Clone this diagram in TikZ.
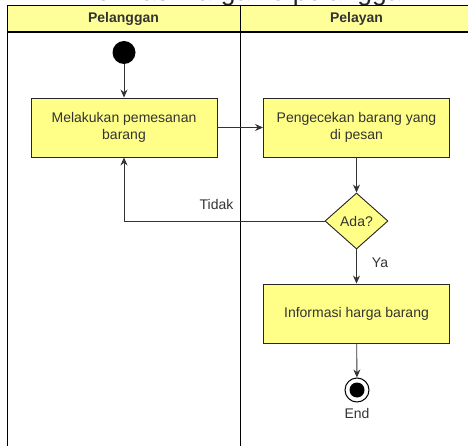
\documentclass[tikz,border=0pt]{standalone}
\usepackage{fontspec}
\setmainfont{Liberation Sans}
\usetikzlibrary{arrows.meta,shapes.geometric}
\definecolor{boxfill}{HTML}{FFFF88}
\definecolor{hdrfill}{HTML}{FFFF99}
\definecolor{txt}{HTML}{333333}
\begin{document}
\begin{tikzpicture}[x=1pt,y=-1pt,
  act/.style={draw=black!85, line width=0.9pt, fill=boxfill, minimum width=186pt,
    minimum height=59pt, align=center, text=txt, inner sep=0pt,
    font=\fontsize{14}{17}\selectfont},
  decision/.style={diamond, draw=black!85, line width=0.9pt, fill=boxfill,
    minimum width=63pt, minimum height=56pt, inner sep=0pt, text=txt,
    font=\fontsize{14}{17}\selectfont},
  lbl/.style={text=txt, inner sep=0pt, font=\fontsize{14}{17}\selectfont},
  hdr/.style={text=txt, inner sep=0pt, font=\fontsize{14}{17}\selectfont\bfseries},
  arr/.style={draw=black!80, line width=0.9pt, -{Stealth[length=8pt,width=7pt]}},
  lane/.style={draw=black, line width=0.9pt}]
\clip (0,0) rectangle (468,446);
\fill[white] (0,0) rectangle (468,446);
% cut-off title
\node[anchor=base, inner sep=0pt, text=black!85, font=\fontsize{26.4}{30}\selectfont] (title) at (241.5,0.8) {Informasi harga ke pelanggan};
% swimlanes
\draw[lane, fill=hdrfill] (7,5) rectangle (480,32);
\draw[draw=black, line width=1.6pt] (7,32) -- (480,32);
\draw[lane] (7,5) -- (7,460);
\draw[lane] (240,5) -- (240,460);
\node[hdr] (h1) at (123.5,18.5) {Pelanggan};
\node[hdr] (h2) at (356.5,18.5) {Pelayan};
% nodes
\node[circle, fill=black, minimum size=23pt, inner sep=0pt] (start) at (124,52.5) {};
\node[act] (m1) at (124,127.5) {Melakukan pemesanan\\barang};
\node[act] (m2) at (356.5,127.5) {Pengecekan barang yang\\di pesan};
\node[decision] (dia) at (356.5,221) {Ada?};
\node[act] (info) at (356.5,313.5) {Informasi harga barang};
\node[circle, draw=black, line width=1pt, fill=white, minimum size=24pt, inner sep=0pt] (endn) at (357,390) {};
\node[circle, fill=black, minimum size=15pt, inner sep=0pt] (endin) at (endn.center) {};
\node[lbl] (endl) at (357,413) {End};
\node[lbl] (tidak) at (216.5,204) {Tidak};
\node[lbl] (ya) at (380,263) {Ya};
% connectors
\draw[arr] (start) -- (m1);
\draw[arr] (m1) -- (m2);
\draw[arr] (m2) -- (dia);
\draw[arr] (dia.west) -| (m1.south);
\draw[arr] (dia) -- (info);
\draw[arr] (info) -- (endn);
\end{tikzpicture}
\end{document}
